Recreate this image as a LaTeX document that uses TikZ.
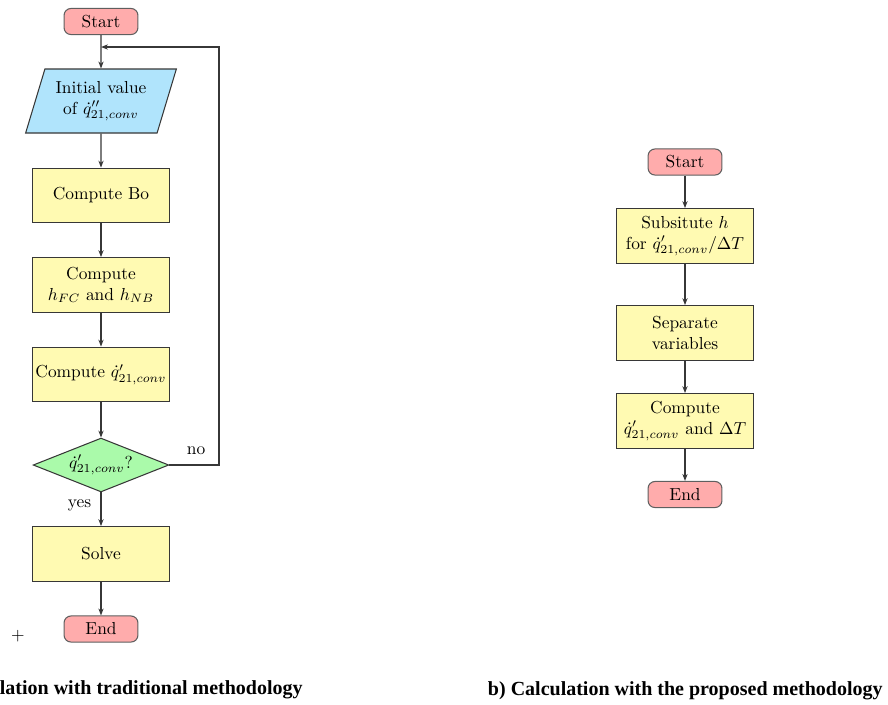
\documentclass[tikz,border=0pt]{standalone}
\usepackage{fontspec}
\newfontfamily\capfont{Liberation Serif}
\usetikzlibrary{shapes.geometric,arrows.meta,calc}
\definecolor{termred}{RGB}{255,172,172}
\definecolor{procyel}{RGB}{255,250,178}
\definecolor{iobl}{RGB}{176,228,252}
\definecolor{decgr}{RGB}{170,250,170}
\definecolor{edge}{RGB}{55,55,55}
\begin{document}
\begin{tikzpicture}[x=0.575pt,y=-0.575pt,
  term/.style={rectangle, rounded corners=4pt, draw=edge!80, fill=termred, line width=0.6pt, minimum width=42.5pt, minimum height=15pt, inner sep=1pt},
  proc/.style={rectangle, draw=edge, fill=procyel, line width=0.6pt, minimum width=79pt, minimum height=31.5pt, align=center, inner sep=1pt},
  io/.style={trapezium, trapezium left angle=69.4, trapezium right angle=110.6, trapezium stretches=true, draw=edge, fill=iobl, line width=0.6pt, minimum width=86.8pt, minimum height=36.8pt, align=center, inner sep=1pt},
  dec/.style={diamond, shape aspect=2.5, draw=edge, fill=decgr, line width=0.6pt, minimum width=78pt, minimum height=31pt, inner sep=0pt},
  arr/.style={-{Stealth[length=4pt,width=3pt]}, draw=edge, line width=0.65pt},
  captxt/.style={font=\capfont\bfseries\fontsize{11.5}{14}\selectfont, inner sep=0pt}]
\useasboundingbox (0,0) rectangle (888,704);
% left flowchart
\node[term] (s1) at (101,21.5) {Start};
\node[io] (init) at (101,101) {Initial value\\of $\dot{q}''_{21,conv}$};
\node[proc] (bo) at (101,195.5) {Compute Bo};
\node[proc] (hh) at (101,285) {Compute\\$h_{FC}$ and $h_{NB}$};
\node[proc] (qc) at (101,374.5) {Compute $\dot{q}'_{21,conv}$};
\node[dec] (dq) at (101,465) {$\dot{q}'_{21,conv}$?};
\node[proc] (sol) at (101,554) {Solve};
\node[term] (e1) at (101,629) {End};
\node (plus) at (18,636) {+};
\coordinate (loopend) at (101,47);
\coordinate (loopR) at (219,47);
\draw[arr] (s1) -- (init);
\draw[arr] (init) -- (bo);
\draw[arr] (bo) -- (hh);
\draw[arr] (hh) -- (qc);
\draw[arr] (qc) -- (dq);
\draw[arr] (dq) -- node[pos=0.38, left, xshift=-2pt] {yes} (sol);
\draw[arr] (sol) -- (e1);
\draw[arr] (dq.east) -| node[pos=0.27, above, yshift=2pt] {no} (loopR) -- (loopend);
% right flowchart
\node[term] (s2) at (685,162) {Start};
\node[proc] (sub) at (685,236) {Subsitute $h$\\for $\dot{q}'_{21,conv}/\Delta T$};
\node[proc] (sep) at (685,333) {Separate\\variables};
\node[proc] (cq) at (685,421) {Compute\\$\dot{q}'_{21,conv}$ and $\Delta T$};
\node[term] (e2) at (685,494.5) {End};
\draw[arr] (s2) -- (sub);
\draw[arr] (sub) -- (sep);
\draw[arr] (sep) -- (cq);
\draw[arr] (cq) -- (e2);
% captions
\node[captxt, anchor=east] (capa) at (303,690) {a) Calculation with traditional methodology};
\node[captxt, anchor=east] (capb) at (883,691) {b) Calculation with the proposed methodology};
\end{tikzpicture}
\end{document}
